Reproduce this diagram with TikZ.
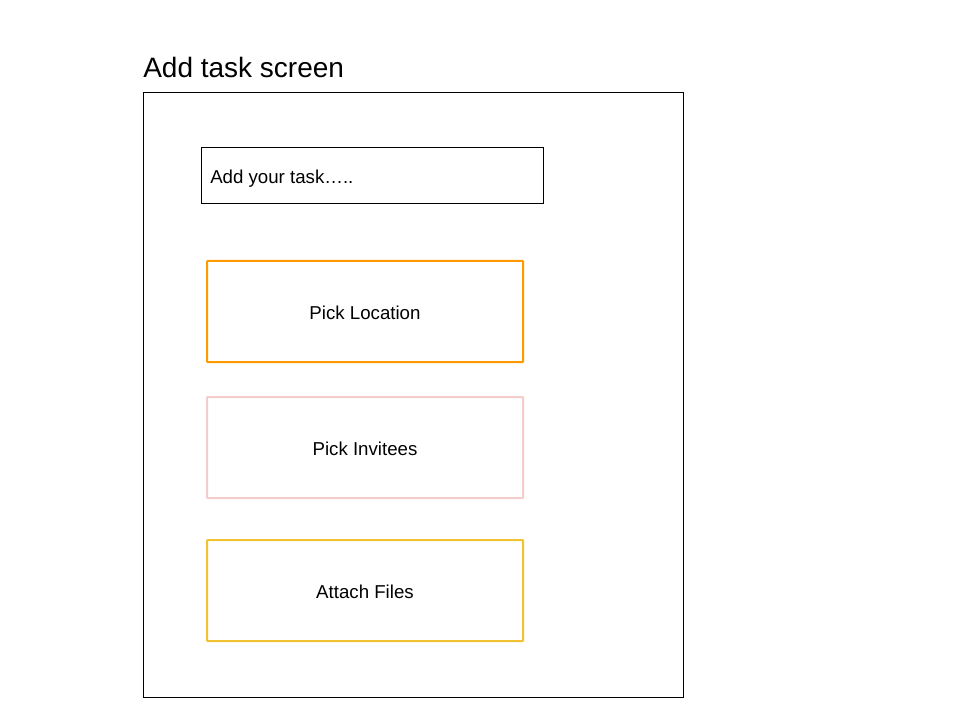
\documentclass[tikz,border=0pt]{standalone}
\usepackage{fontspec}
\setmainfont{Liberation Sans}
\definecolor{orangeb}{HTML}{FF9900}
\definecolor{pinkb}{HTML}{F4CCCC}
\definecolor{yellowb}{HTML}{F1C232}
\begin{document}
\begin{tikzpicture}[x=0.75pt,y=-0.75pt,
  frame/.style={draw=black,line width=0.75pt},
  optbox/.style={line width=1.5pt,rounded corners=0.5pt},
  lbl/.style={font=\fontsize{14pt}{16pt}\selectfont,inner sep=0pt}]
\useasboundingbox (0,0) rectangle (960,720);
\node[anchor=base west,inner sep=0pt,font=\fontsize{21pt}{25pt}\selectfont] (title) at (143,78) {Add task screen};
\draw[frame] (143.5,92.5) rectangle (683.5,697.5);
\draw[frame] (201.5,147.5) rectangle (543.5,203.5);
\node[lbl,anchor=base west] (taskin) at (210,183.5) {Add your task…..};
\draw[optbox,draw=orangeb] (207,261) rectangle (523,362);
\node[lbl] (loc) at (365,312.5) {Pick Location};
\draw[optbox,draw=pinkb] (207,397) rectangle (523,498);
\node[lbl] (inv) at (365,448.5) {Pick Invitees};
\draw[optbox,draw=yellowb] (207,540) rectangle (523,641);
\node[lbl] (att) at (365,591.5) {Attach Files};
\end{tikzpicture}
\end{document}
